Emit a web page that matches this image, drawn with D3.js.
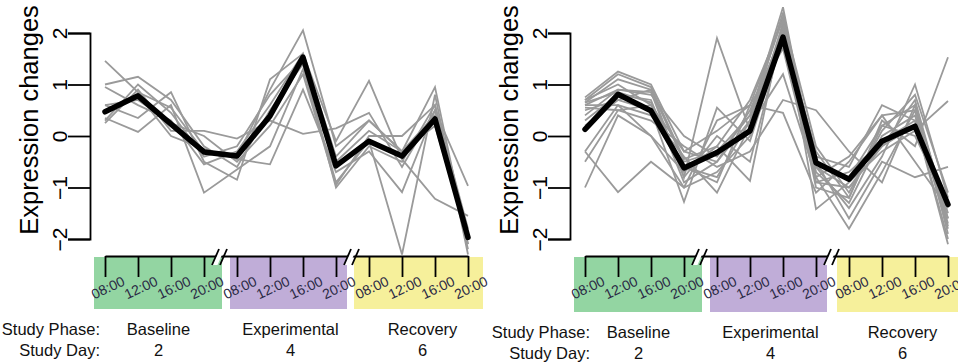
<!DOCTYPE html>
<html><head><meta charset="utf-8">
<script src="https://cdn.jsdelivr.net/npm/d3@7"></script>
<style>
body{margin:0;background:#fff}
svg{display:block}
text{font-family:"Liberation Sans",Arial,Helvetica,sans-serif}
</style>
</head><body>
<svg id="chart" width="958" height="364"></svg>
<script>
// ---------- DATA ----------
const timeLabels = ["08:00","12:00","16:00","20:00","08:00","12:00","16:00","20:00","08:00","12:00","16:00","20:00"];
const phaseLabels = ["Baseline","Experimental","Recovery"];
const studyDays = ["2","4","6"];
const yTickValues = [-2,-1,0,1,2];
const yTitle = "Expression changes";
const phaseRowTitle = "Study Phase:";
const dayRowTitle = "Study Day:";

const leftMean = [0.47,0.78,0.23,-0.31,-0.39,0.39,1.53,-0.58,-0.10,-0.39,0.33,-1.97];
const leftGenes = [
  [1.46,0.85,0.55,-0.30,-0.40,0.90,2.05,-0.20,0.30,-0.30,0.95,-2.10],
  [1.00,1.15,0.70,-0.20,-0.60,0.50,1.40,-1.00,-0.20,-0.50,0.60,-2.20],
  [0.60,0.35,0.85,-0.50,-0.85,1.10,1.60,-0.10,1.07,-0.45,-1.22,-1.55],
  [0.35,0.08,0.60,-1.10,-0.65,-0.20,1.30,-0.90,-0.10,-2.30,0.80,-2.30],
  [0.25,0.90,0.10,0.10,-0.05,0.30,0.04,0.15,0.45,-0.60,0.50,-0.97],
  [0.95,0.60,0.30,-0.55,-0.30,0.60,1.60,-0.40,0.30,-0.30,0.40,-2.10],
  [0.50,0.80,0.00,-0.25,-0.45,-0.55,0.90,-0.70,-0.30,-1.09,0.50,-1.90],
  [0.30,1.00,0.45,-0.40,-0.20,0.80,1.50,-0.50,0.10,-0.30,0.20,-2.00],
  [0.60,0.70,0.25,0.00,-0.50,0.20,1.20,-0.95,0.00,0.00,0.60,-1.80]
];

const rightMean = [0.13,0.81,0.49,-0.62,-0.32,0.10,1.92,-0.52,-0.84,-0.10,0.19,-1.33];
const rightGenes = [
  [0.75,1.25,1.00,-0.30,0.10,0.60,2.30,-0.50,-0.80,0.20,0.60,-1.50],
  [0.65,1.10,0.90,-0.50,-0.30,0.40,2.50,-0.70,-1.30,0.00,0.40,-1.80],
  [0.60,0.90,0.85,-0.80,1.90,0.10,2.20,-0.90,-1.00,-0.20,0.20,-1.60],
  [0.70,1.00,0.60,-0.60,-0.80,0.30,2.10,-0.60,-1.40,-0.40,1.00,-1.20],
  [0.50,0.70,0.50,-1.28,0.55,-0.10,1.90,-0.40,-0.60,0.60,0.30,-2.00],
  [0.30,0.80,0.70,-0.90,-0.50,0.50,2.00,-1.00,-1.20,0.30,-0.20,1.53],
  [-0.30,0.60,0.40,-0.40,-1.10,0.20,1.20,-0.80,-1.80,-0.70,0.50,-1.70],
  [-1.00,0.40,0.00,-0.70,-0.20,-0.87,2.20,-1.42,-0.90,-0.30,0.10,0.68],
  [-0.30,-1.09,-0.50,-1.00,0.30,0.60,0.45,-1.10,-0.50,0.40,-0.50,-1.40],
  [0.55,0.50,0.30,-0.20,-0.60,-0.30,0.70,0.50,-0.30,-0.90,0.60,-1.90],
  [0.60,0.60,0.00,-1.00,-0.70,0.00,2.10,-0.50,-1.60,-0.50,-0.80,-0.60],
  [0.40,0.90,0.80,0.00,-0.40,0.40,2.30,-0.20,-1.10,0.10,0.80,-1.10],
  [0.65,0.85,0.65,-0.60,-0.90,0.60,1.70,-0.90,-0.70,-0.10,0.30,-2.10],
  [0.20,0.70,0.90,-0.80,0.00,-0.50,2.00,-0.30,-1.20,0.20,0.00,-1.30],
  [-0.50,0.50,0.60,-0.30,-0.50,0.30,2.40,-0.80,-0.40,0.40,0.50,-1.75],
  [0.70,1.20,0.95,-0.45,-0.20,0.70,2.25,-0.60,-1.00,-0.20,0.70,-1.60]
];

// ---------- DRAW ----------
const svg = d3.select("#chart");
svg.append("rect").attr("width",958).attr("height",364).attr("fill","#fff");

const phaseColors = ["#93d5a2","#c0add8","#f6f09b"];

function drawPanel(ox, mean, genes, o) {
  const g = svg.append("g").attr("transform", `translate(${ox},0)`);
  const x = d3.scalePoint().domain(d3.range(timeLabels.length)).range([105,468]);
  const y = d3.scaleLinear().domain([-2,2]).range([239,33]);
  const axisY = 256;

  // phase boxes
  const boxes = [
    [x(0)-11, x(3)+18],
    [x(4)-7,  x(7)+11],
    [x(8)-o.yStart, x(11)+o.yEnd]
  ];
  g.selectAll("rect.phase").data(boxes).join("rect")
    .attr("class","phase")
    .attr("x", d=>d[0]).attr("width", d=>d[1]-d[0])
    .attr("y", axisY+1).attr("height", o.boxH)
    .attr("fill", (d,i)=>phaseColors[i]);

  // gene lines
  const line = d3.line().x((d,i)=>x(i)).y(d=>y(d));
  g.selectAll("path.gene").data(genes).join("path")
    .attr("class","gene")
    .attr("d", line)
    .attr("fill","none").attr("stroke","#9a9a9a").attr("stroke-width",1.8)
    .attr("stroke-linejoin","miter");

  g.append("path").datum(mean).attr("d", line)
    .attr("fill","none").attr("stroke","#000").attr("stroke-width",5.5)
    .attr("stroke-linejoin","round").attr("stroke-linecap","round");

  // y axis
  const ya = g.append("g").attr("transform","translate(90,0)")
    .call(d3.axisLeft(y).tickValues(yTickValues).tickSize(22).tickSizeOuter(22).tickFormat(d3.format("d")));
  ya.selectAll("path,line").attr("stroke","#000").attr("stroke-width",1.8);
  ya.selectAll("text")
    .attr("x",null).attr("dy",null)
    .attr("transform","translate(-23,0) rotate(-90)")
    .attr("text-anchor","middle")
    .attr("font-size",21).attr("fill","#000")
    .style("font-family","'Liberation Sans',Arial,sans-serif")
    .text(d => d < 0 ? "\u2212" + Math.abs(d) : d);

  g.append("text")
    .attr("transform","translate(38,120) rotate(-90)")
    .attr("text-anchor","middle").attr("font-size",25.5).attr("fill","#000")
    .text(yTitle);

  // x axis
  const xa = g.append("g").attr("transform",`translate(0,${axisY})`)
    .call(d3.axisBottom(x).tickSize(21).tickSizeOuter(0).tickFormat(""));
  xa.selectAll("path,line").attr("stroke","#000").attr("stroke-width",1.8);

  // axis breaks
  [ (x(3)+x(4))/2, (x(7)+x(8))/2 ].forEach(xm => {
    g.append("path")
      .attr("d", `M${xm-8},${axisY+9} L${xm-1},${axisY-7} L${xm+4},${axisY-7} L${xm-3},${axisY+9} Z`)
      .attr("fill","#fff");
    [-5, 3].forEach(dx => {
      g.append("line")
        .attr("x1", xm+dx-3.5).attr("y1", axisY+9)
        .attr("x2", xm+dx+3.5).attr("y2", axisY-7)
        .attr("stroke","#000").attr("stroke-width",1.8);
    });
  });

  // time labels
  g.selectAll("text.time").data(timeLabels).join("text")
    .attr("class","time")
    .attr("transform",(d,i)=>`translate(${x(i)+5},${292}) rotate(-25)`)
    .attr("text-anchor","middle").attr("font-size",14).attr("fill","#2a2944")
    .text(d=>d);

  // study rows
  g.append("text").attr("x",o.rowX).attr("y",335+o.dy).attr("text-anchor","end")
    .attr("font-size",16.5).attr("fill","#111").text(phaseRowTitle);
  g.append("text").attr("x",o.rowX).attr("y",356+o.dy).attr("text-anchor","end")
    .attr("font-size",16.5).attr("fill","#111").text(dayRowTitle);

  const centers = [0,1,2].map(k => (x(k*4)+x(k*4+3))/2 + 4);
  g.selectAll("text.phaseLab").data(phaseLabels).join("text")
    .attr("class","phaseLab")
    .attr("x",(d,i)=>centers[i]).attr("y",335+o.dy)
    .attr("text-anchor","middle").attr("font-size",16.5).attr("fill","#111").text(d=>d);
  g.selectAll("text.dayLab").data(studyDays).join("text")
    .attr("class","dayLab")
    .attr("x",(d,i)=>centers[i]).attr("y",356+o.dy)
    .attr("text-anchor","middle").attr("font-size",16.5).attr("fill","#111").text(d=>d);
}

drawPanel(0, leftMean, leftGenes, {yStart:15, yEnd:15, boxH:52, rowX:100, dy:0});
drawPanel(480, rightMean, rightGenes, {yStart:12, yEnd:12, boxH:55, rowX:110, dy:3});
</script>
</body></html>
